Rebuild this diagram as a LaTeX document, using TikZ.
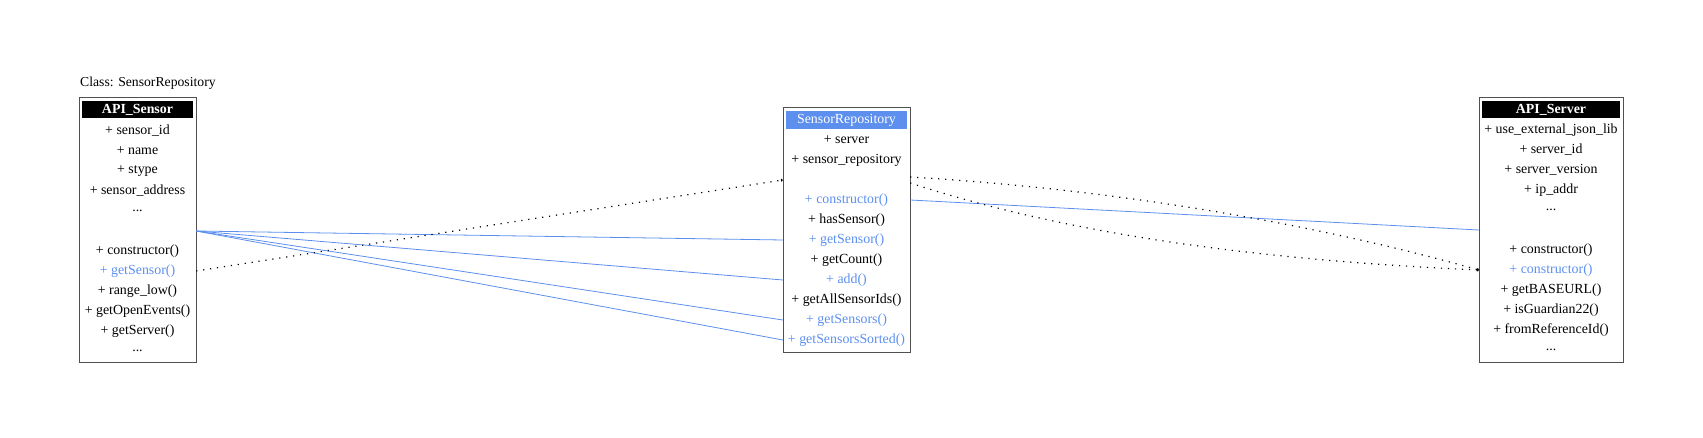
\documentclass[tikz,border=0pt]{standalone}
\usepackage{fontspec}
\setmainfont{Liberation Serif}
\usetikzlibrary{calc,arrows.meta}
\definecolor{umlblue}{RGB}{92,143,238}
\definecolor{frameGray}{RGB}{80,80,80}

\begin{document}
\begin{tikzpicture}[
  x=1pt, y=-1pt,
  font=\fontsize{13.9}{15}\selectfont,
  frame/.style={draw=frameGray, line width=1pt, inner sep=0pt},
  head/.style={inner sep=0pt, minimum height=17pt, text=white},
  row/.style={inner sep=0pt, minimum height=20pt},
  link/.style={umlblue, line width=0.8pt},
  dep/.style={line width=1.2pt, dash pattern=on 1.2pt off 5.8pt,
    -{To[length=2pt,width=3pt]}}
]
\useasboundingbox (0,0) rectangle (1703,438);

% title
\node[anchor=west, inner sep=0pt, font=\fontsize{13.7}{16}\selectfont] (title) at (80,83) {Class: SensorRepository};

%================================================
% LEFT:  API_Sensor
%================================================
\node[frame, minimum width=117pt, minimum height=264pt] (sensor) at (137.5,230) {};
\node[head, fill=black, minimum width=111pt, font=\fontsize{13.9}{15}\selectfont\bfseries]
  (sensor-0) at (137.5,110) {API\_Sensor};
\foreach \txt/\col [count=\i] in {
  {+ sensor\_id}/black, {+ name}/black, {+ stype}/black,
  {+ sensor\_address}/black, {...}/black, {}/black,
  {+ constructor()}/black, {+ getSensor()}/umlblue, {+ range\_low()}/black,
  {+ getOpenEvents()}/black, {+ getServer()}/black, {...}/black}
  \node[row, minimum width=117pt, text=\col] (sensor-\i) at (137.5,111+20*\i) {\txt};

%================================================
% MIDDLE:  SensorRepository
%================================================
\node[frame, minimum width=127pt, minimum height=244pt] (repo) at (846.5,230) {};
\node[head, fill=umlblue, minimum width=121pt, minimum height=18pt]
  (repo-0) at (846.5,120) {SensorRepository};
\foreach \txt/\col [count=\i] in {
  {+ server}/black, {+ sensor\_repository}/black, {}/black,
  {+ constructor()}/umlblue, {+ hasSensor()}/black, {+ getSensor()}/umlblue,
  {+ getCount()}/black, {+ add()}/umlblue, {+ getAllSensorIds()}/black,
  {+ getSensors()}/umlblue, {+ getSensorsSorted()}/umlblue}
  \node[row, minimum width=127pt, text=\col] (repo-\i) at (846.5,120+20*\i) {\txt};

%================================================
% RIGHT:  API_Server
%================================================
\node[frame, minimum width=144pt, minimum height=264pt] (server) at (1551,230) {};
\node[head, fill=black, minimum width=138pt, font=\fontsize{13.9}{15}\selectfont\bfseries]
  (server-0) at (1551,109.5) {API\_Server};
\foreach \txt/\col [count=\i] in {
  {+ use\_external\_json\_lib}/black, {+ server\_id}/black,
  {+ server\_version}/black, {+ ip\_addr}/black, {...}/black, {}/black,
  {+ constructor()}/black, {+ constructor()}/umlblue, {+ getBASEURL()}/black,
  {+ isGuardian22()}/black, {+ fromReferenceId()}/black, {...}/black}
  \node[row, minimum width=144pt, text=\col] (server-\i) at (1551,110+20*\i) {\txt};

% calls
\foreach \j in {6,8,10,11}
  \draw[link] (sensor-6.east) -- (repo-\j.west);
\draw[link] (repo-4.east) -- (server-6.west);

% dependencies
\draw[dep] (sensor-8.east) -- (repo-3.west);
\draw[dep] ($(repo-3.east)+(0,-3)$) .. controls +(200,12) and +(-170,-48) .. (server-8.west);
\draw[dep] ($(repo-3.east)+(0,3)$) .. controls +(160,52) and +(-220,-10) .. (server-8.west);

\end{tikzpicture}
\end{document}
